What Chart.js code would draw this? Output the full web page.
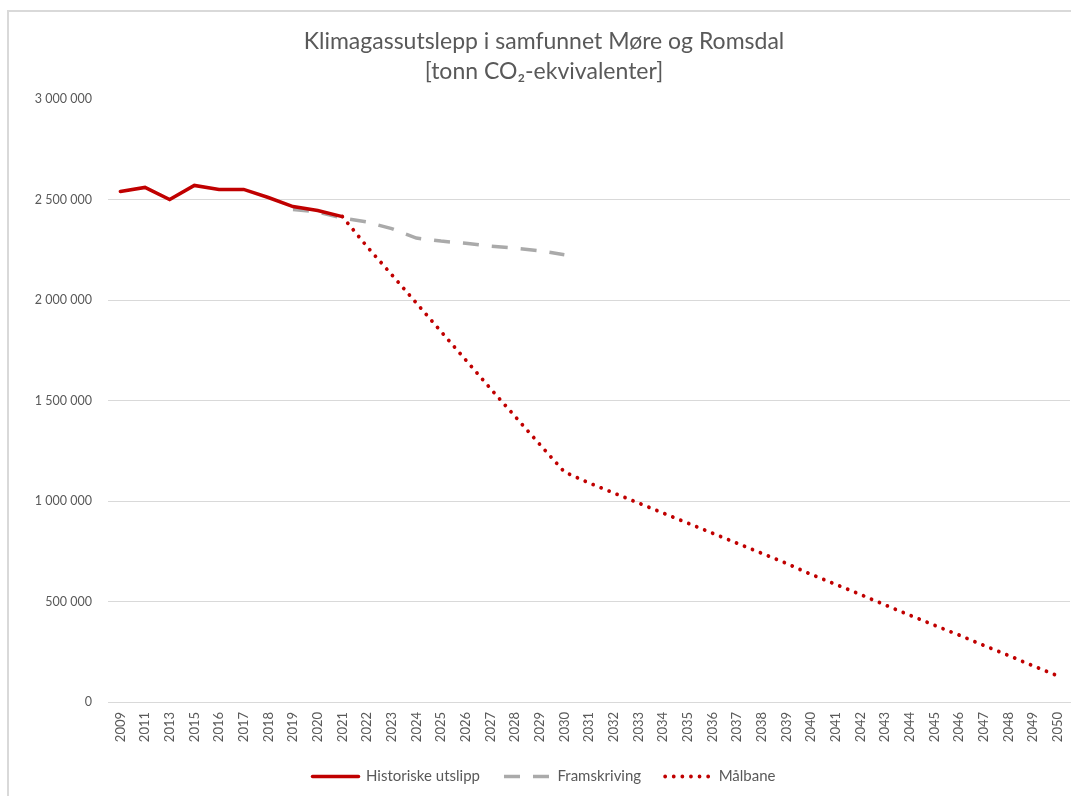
<!DOCTYPE html>
<html>
<head>
<meta charset="utf-8">
<script src="https://cdn.jsdelivr.net/npm/chart.js@4/dist/chart.umd.min.js"></script>
<style>
  html, body { margin: 0; padding: 0; background: #fff; overflow: hidden; }
  #frame { position: absolute; left: 7px; top: 10px; width: 1200px; height: 900px;
           border-left: 2px solid #d9d9d9; border-top: 2px solid #d9d9d9; }
  #wrap { position: absolute; left: 0; top: 0; width: 1071px; height: 796px; }
</style>
</head>
<body>
<div id="frame"></div>
<div id="wrap"><canvas id="chart" width="1071" height="796"></canvas></div>
<script>
// kategorier (x-aksen)
const years = ['2009', '2011', '2013', '2015', '2016', '2017', '2018', '2019', '2020', '2021',
  '2022', '2023', '2024', '2025', '2026', '2027', '2028', '2029', '2030', '2031',
  '2032', '2033', '2034', '2035', '2036', '2037', '2038', '2039', '2040', '2041',
  '2042', '2043', '2044', '2045', '2046', '2047', '2048', '2049', '2050'];

// tonn CO2-ekvivalenter, lest av figuren
const historisk = [2540000, 2560000, 2500000, 2570000, 2550000, 2550000, 2510000, 2465000, 2445000, 2415000,
  null, null, null, null, null, null, null, null, null, null,
  null, null, null, null, null, null, null, null, null, null,
  null, null, null, null, null, null, null, null, null];

const framskriving = [null, null, null, null, null, null, null, 2450000, 2438000, 2408000,
  2388000, 2355000, 2308000, 2293000, 2282000, 2268000, 2258000, 2245000, 2225000, null,
  null, null, null, null, null, null, null, null, null, null,
  null, null, null, null, null, null, null, null, null];

const malbane = [null, null, null, null, null, null, null, null, null, 2415000,
  2266000, 2126000, 1985000, 1843000, 1702000, 1560000, 1421000, 1282000, 1145000, 1090000,
  1040000, 990000, 940000, 890000, 840000, 790000, 740000, 690000, 635000, 585000,
  535000, 483000, 432000, 382000, 333000, 282000, 232000, 180000, 130000];

const yTicks = [0, 500000, 1000000, 1500000, 2000000, 2500000, 3000000];

const tekst = '#595959';
const grid = '#d9d9d9';
const rod = '#c00000';
const gra = '#aaaaaa';
const font = 'Lato, "Noto Sans", sans-serif';

const fmt = v => String(v).replace(/\B(?=(\d{3})+(?!\d))/g, ' ');

new Chart(document.getElementById('chart').getContext('2d'), {
  type: 'line',
  data: {
    labels: years,
    datasets: [
      {
        label: 'Historiske utslipp',
        data: historisk,
        borderColor: rod,
        backgroundColor: rod,
        borderWidth: 3.5,
        borderCapStyle: 'round',
        pointRadius: 0,
        tension: 0
      },
      {
        label: 'Framskriving',
        data: framskriving,
        borderColor: gra,
        backgroundColor: gra,
        borderWidth: 3.5,
        borderDash: [16, 13],
        borderCapStyle: 'butt',
        pointRadius: 0,
        tension: 0
      },
      {
        label: 'Målbane',
        data: malbane,
        borderColor: rod,
        backgroundColor: rod,
        borderWidth: 3.8,
        borderDash: [0.001, 8.6],
        borderCapStyle: 'round',
        pointRadius: 0,
        tension: 0
      }
    ]
  },
  options: {
    responsive: false,
    animation: false,
    spanGaps: false,
    // venstre-padding flytter tittel og forklaring litt mot høyre, som i originalen
    layout: { padding: { left: 18, right: 1, top: 0, bottom: 2 } },
    plugins: {
      title: {
        display: true,
        text: ['Klimagassutslepp i samfunnet Møre og Romsdal', '[tonn CO₂-ekvivalenter]'],
        color: tekst,
        font: { family: font, size: 23, weight: 'normal', lineHeight: 30 / 23 },
        padding: { top: 27, bottom: 12 }
      },
      legend: {
        position: 'bottom',
        labels: {
          usePointStyle: true,
          pointStyle: 'line',
          pointStyleWidth: 46,
          color: tekst,
          font: { family: font, size: 15 },
          padding: 24,
          // strekmønster fra datasettet, ikke fra punktene
          generateLabels: chart => {
            const items = Chart.defaults.plugins.legend.labels.generateLabels(chart);
            items.forEach(it => {
              const ds = chart.data.datasets[it.datasetIndex];
              it.lineDash = ds.borderDash || [];
              it.lineCap = ds.borderCapStyle || 'butt';
              it.lineWidth = ds.borderWidth;
              it.strokeStyle = ds.borderColor;
            });
            return items;
          }
        }
      },
      tooltip: { enabled: false }
    },
    scales: {
      x: {
        offset: true,
        grid: { display: false, drawTicks: false },
        border: { display: true, color: grid, width: 1 },
        ticks: {
          color: tekst,
          font: { family: font, size: 13 },
          minRotation: 90,
          maxRotation: 90,
          autoSkip: false,
          padding: 10
        },
        afterFit: s => { s.height = 43; s.paddingLeft = 0; s.paddingRight = 0; }
      },
      y: {
        min: 0,
        max: 3000000,
        afterBuildTicks: s => { s.ticks = yTicks.map(v => ({ value: v })); },
        grid: {
          drawTicks: false,
          color: c => (c.tick && c.tick.value === 3000000) ? 'rgba(0,0,0,0)' : grid,
          lineWidth: 1
        },
        border: { display: false },
        ticks: {
          color: tekst,
          font: { family: font, size: 12.5 },
          padding: 16,
          callback: v => fmt(v)
        },
        afterFit: s => { s.width = 90; }
      }
    }
  }
});
</script>
</body>
</html>
